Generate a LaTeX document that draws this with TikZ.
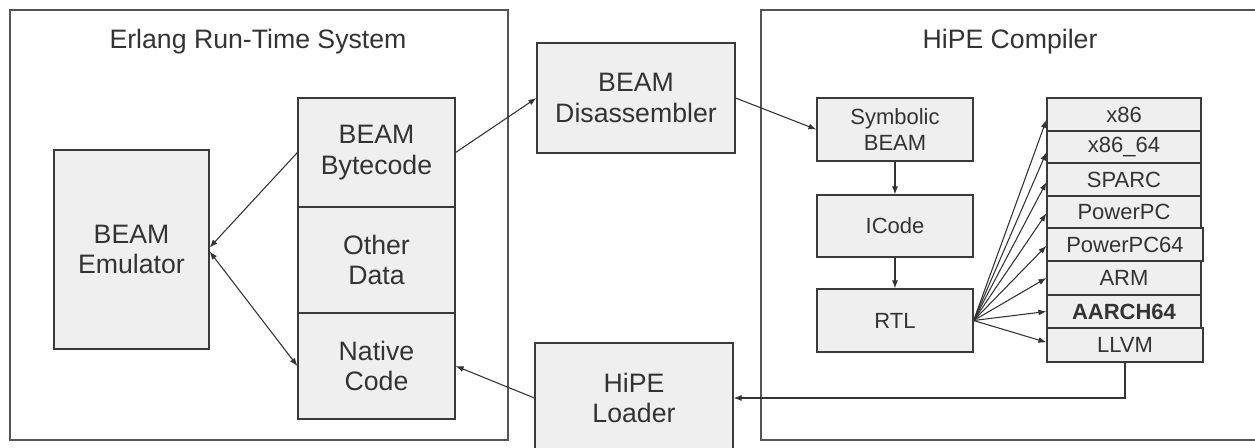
\documentclass[tikz,border=0pt]{standalone}
\usepackage{fontspec}
\setmainfont{Liberation Sans}
\usetikzlibrary{arrows.meta}
\definecolor{txt}{HTML}{333333}
\definecolor{bord}{HTML}{3A3A3A}
\definecolor{boxfill}{HTML}{EFEFEF}
\definecolor{frame}{HTML}{555555}
\tikzset{
  sz/.style 2 args={minimum width=#1*0.75pt, minimum height=#2*0.75pt},
  box/.style={draw=bord, fill=boxfill, line width=0.9pt, inner sep=0pt, align=center, text=txt,
    font=\fontsize{20}{23}\selectfont},
  smallbox/.style={box, font=\fontsize{16.5}{20}\selectfont},
  archbox/.style={box, font=\fontsize{16.5}{20}\selectfont},
  frm/.style={draw=frame, line width=1.1pt},
  ttl/.style={text=txt, font=\fontsize{20}{23}\selectfont},
  arr/.style={draw=txt, line width=0.8pt, -{Latex[length=6pt,width=4.5pt]}},
  darr/.style={draw=txt, line width=0.8pt, {Latex[length=6pt,width=4.5pt]}-{Latex[length=6pt,width=4.5pt]}},
}
\begin{document}
\begin{tikzpicture}[x=0.75pt,y=-0.75pt]
\useasboundingbox (0,0) rectangle (1255,447);
\clip (0,0) rectangle (1255,447);
\fill[white] (0,0) rectangle (1255,447);
% frames
\draw[frm] (10,10) rectangle (508,440);
\node[ttl] (ertst) at (258,42) {Erlang Run-Time System};
\draw[frm] (761,10) rectangle (1275,440);
\node[ttl] (hipet) at (1010,42) {HiPE Compiler};
% runtime
\node[box, sz={155}{199}] (emu) at (131.5,249.5) {BEAM\\Emulator};
\node[box, sz={157}{109}] (bytecode) at (376.5,152.5) {BEAM\\Bytecode};
\node[box, sz={157}{106}] (other) at (376.5,260) {Other\\Data};
\node[box, sz={157}{106}] (native) at (376.5,366) {Native\\Code};
% middle
\node[box, sz={198}{110}] (disasm) at (636,98) {BEAM\\Disassembler};
\node[box, sz={198}{110}] (loader) at (634,398) {HiPE\\Loader};
% compiler
\node[smallbox, sz={156}{63}] (sym) at (895,129.5) {Symbolic\\BEAM};
\node[smallbox, sz={156}{62}] (icode) at (895,226) {ICode};
\node[smallbox, sz={156}{63}] (rtl) at (895,320.5) {RTL};
\node[archbox, sz={154}{33}] (x86) at (1124,114.5) {x86};
\node[archbox, sz={154}{32}] (x8664) at (1124,147) {x86\_64};
\node[archbox, sz={154}{33}] (sparc) at (1124,179.5) {SPARC};
\node[archbox, sz={154}{32}] (ppc) at (1124,212) {PowerPC};
\node[archbox, sz={156}{33}] (ppc64) at (1125,244.5) {PowerPC64};
\node[archbox, sz={154}{34}] (arm) at (1124,278) {ARM};
\node[archbox, sz={154}{33}] (aarch) at (1124,311.5) {\bfseries AARCH64};
\node[archbox, sz={156}{34}] (llvm) at (1125,345) {LLVM};
% connectors
\draw[arr] (bytecode.west) -- ([yshift=1.5pt]emu.east);
\draw[darr] ([yshift=-1.5pt]emu.east) -- (native.west);
\draw[arr] (bytecode.east) -- (disasm.west);
\draw[arr] (disasm.east) -- (sym.west);
\draw[arr] (sym.south) -- (icode.north);
\draw[arr] (icode.south) -- (rtl.north);
\draw[arr] (rtl.east) -- ([yshift=-4pt]x86.west);
\draw[arr] (rtl.east) -- ([yshift=-4pt]x8664.west);
\draw[arr] (rtl.east) -- ([yshift=-2pt]sparc.west);
\draw[arr] (rtl.east) -- ([yshift=-1pt]ppc.west);
\draw[arr] (rtl.east) -- ([yshift=-1pt]ppc64.west);
\draw[arr] (rtl.east) -- (arm.west);
\draw[arr] (rtl.east) -- (aarch.west);
\draw[arr] (rtl.east) -- ([yshift=2pt]llvm.west);
\coordinate (bend) at (llvm.south |- loader.east);
\draw[arr] (llvm.south) -- (bend) -- (loader.east);
\draw[arr] (loader.west) -- (native.east);
\end{tikzpicture}
\end{document}
